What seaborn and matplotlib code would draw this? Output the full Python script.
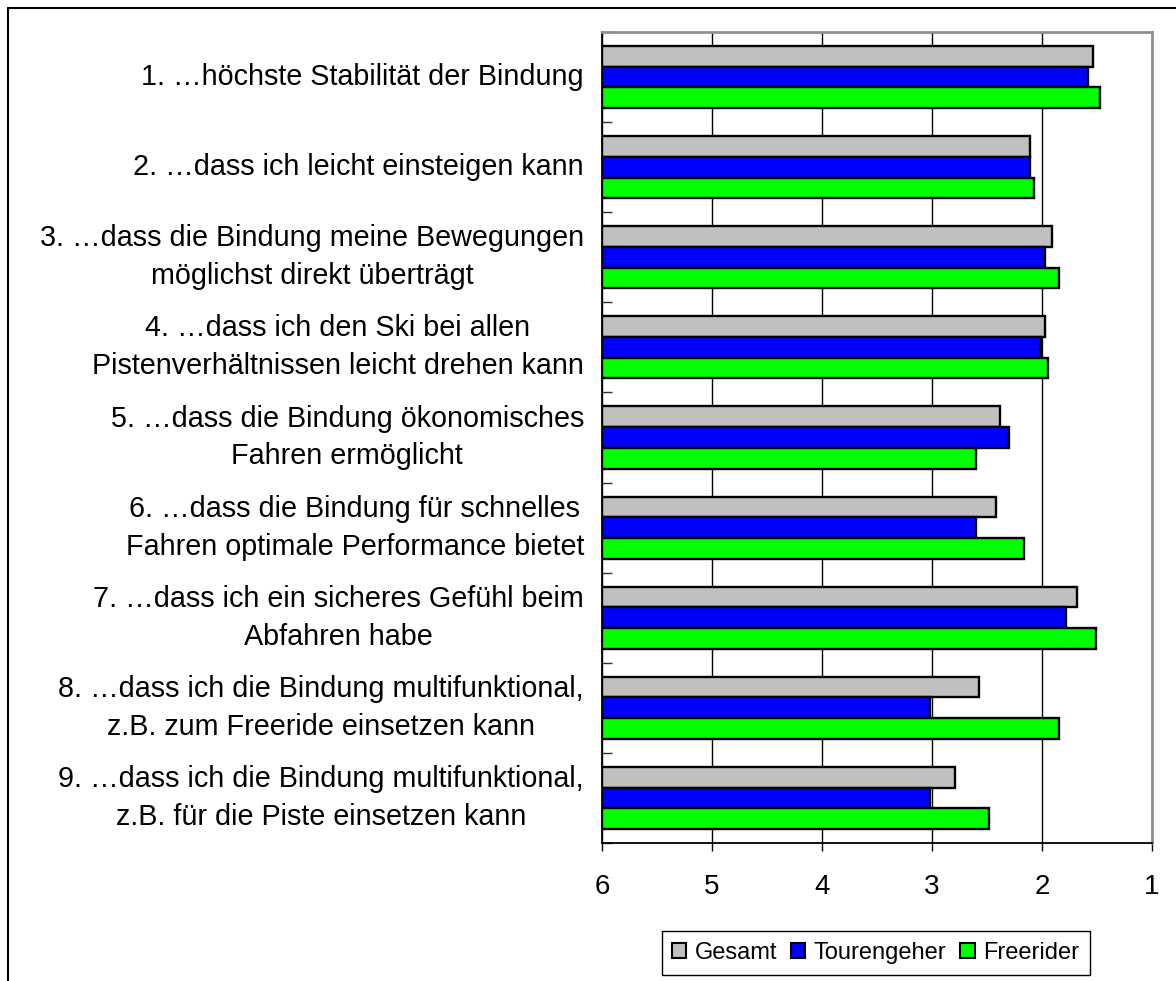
import matplotlib
matplotlib.use("Agg")
import matplotlib.pyplot as plt
from matplotlib.lines import Line2D
from matplotlib.ticker import FixedLocator, FuncFormatter
import pandas as pd
import seaborn as sns

items = [
    "1. \u2026höchste Stabilität der Bindung",
    "2. \u2026dass ich leicht einsteigen kann",
    "3. \u2026dass die Bindung meine Bewegungen\nmöglichst direkt überträgt",
    "4. \u2026dass ich den Ski bei allen\nPistenverhältnissen leicht drehen kann",
    "5. \u2026dass die Bindung ökonomisches\nFahren ermöglicht",
    "6. \u2026dass die Bindung für schnelles\nFahren optimale Performance bietet",
    "7. \u2026dass ich ein sicheres Gefühl beim\nAbfahren habe",
    "8. \u2026dass ich die Bindung multifunktional,\nz.B. zum Freeride einsetzen kann",
    "9. \u2026dass ich die Bindung multifunktional,\nz.B. für die Piste einsetzen kann",
]
gesamt = [1.54, 2.11, 1.91, 1.97, 2.38, 2.42, 1.68, 2.57, 2.79]
tourengeher = [1.58, 2.11, 1.97, 2.01, 2.30, 2.60, 1.78, 3.02, 3.02]
freerider = [1.47, 2.07, 1.85, 1.95, 2.60, 2.16, 1.51, 1.85, 2.48]
groups = ["Gesamt", "Tourengeher", "Freerider"]
colors = {"Gesamt": "#C0C0C0", "Tourengeher": "#0000FF", "Freerider": "#00FF00"}
worst = 6  # scale runs from 6 (left) to 1 (right)

rows = []
for grp, vals in zip(groups, [gesamt, tourengeher, freerider]):
    for item, v in zip(items, vals):
        rows.append({"item": item, "group": grp, "score": v, "dist": worst - v})
df = pd.DataFrame(rows)

sns.set_style("white")
plt.rcParams["font.family"] = ["Liberation Sans", "DejaVu Sans"]
plt.rcParams["text.color"] = "black"
plt.rcParams["xtick.color"] = "black"
plt.rcParams["ytick.color"] = "black"

fig = plt.figure(figsize=(11.76, 9.81), dpi=100)
ax = fig.add_axes([602 / 1176, 1 - 843 / 981, 550 / 1176, 811 / 981])

sns.barplot(data=df, y="item", x="dist", hue="group", order=items,
            hue_order=groups, palette=colors, saturation=1, orient="h",
            width=0.69, gap=0, edgecolor="black", linewidth=1.7,
            errorbar=None, ax=ax, zorder=3)

ax.set_xlim(0, 5)
ax.set_ylim(len(items) - 0.5, -0.5)
ax.set_xticks(range(6))
ax.xaxis.set_major_formatter(FuncFormatter(lambda x, p: f"{worst - x:.0f}"))
ax.set_xlabel("")
ax.set_ylabel("")

ax.xaxis.grid(True, color="black", linewidth=1)
ax.yaxis.grid(False)
ax.set_axisbelow(True)

ax.tick_params(axis="x", direction="out", length=6, width=1, color="black",
               labelcolor="black", labelsize=20, pad=16, bottom=True)
ax.tick_params(axis="y", which="major", length=0, labelsize=20.7,
               labelcolor="black", pad=13)
ax.yaxis.set_minor_locator(FixedLocator([i + 0.5 for i in range(-1, len(items))]))
ax.tick_params(axis="y", which="minor", direction="in", length=7, width=1,
               color="#303030", left=True)
for lbl in ax.get_yticklabels():
    lbl.set_multialignment("center")
    lbl.set_linespacing(1.45)
    lbl.set_verticalalignment("center")

for side in ["left", "bottom"]:
    ax.spines[side].set_color("black")
    ax.spines[side].set_linewidth(1.3)
for side in ["top", "right"]:
    ax.spines[side].set_color("#909090")
    ax.spines[side].set_linewidth(2)

leg = ax.get_legend()
handles = leg.legend_handles
labels = [t.get_text() for t in leg.get_texts()]
leg.remove()
for h in handles:
    h.set_edgecolor("black")
    h.set_linewidth(1.5)
lg = fig.legend(handles, labels, loc="center", bbox_to_anchor=(0.7445, 0.0285),
                ncol=3, fontsize=17, frameon=True, fancybox=False,
                edgecolor="black", framealpha=1, handlelength=0.6,
                handleheight=0.6, handletextpad=0.35, columnspacing=0.6,
                borderpad=0.45, borderaxespad=0)
for t in lg.get_texts():
    t.set_color("black")

# outer chart border
fig.add_artist(Line2D([8 / 1176, 1], [1 - 8 / 981] * 2, transform=fig.transFigure,
                      color="black", linewidth=1.5))
fig.add_artist(Line2D([8 / 1176] * 2, [0, 1 - 8 / 981], transform=fig.transFigure,
                      color="black", linewidth=1.5))

fig.savefig("out.png", dpi=100)
